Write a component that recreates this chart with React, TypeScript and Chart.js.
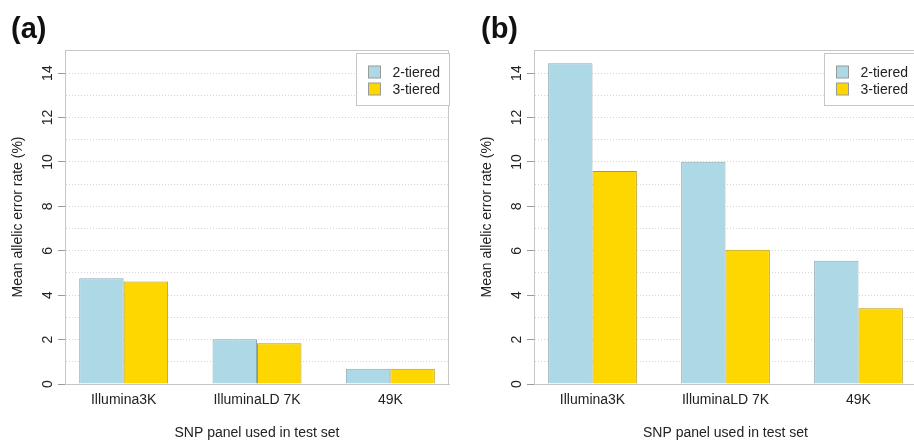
import React, { useEffect, useRef } from "react";
import { Chart, registerables } from "chart.js";

Chart.register(...registerables);

// ---------- data ----------
const categories = ["Illumina3K", "IlluminaLD 7K", "49K"];
const seriesNames = ["2-tiered", "3-tiered"];
const panelA_twoTiered = [4.76, 2.01, 0.69];
const panelA_threeTiered = [4.61, 1.83, 0.69];
const panelB_twoTiered = [14.44, 10.01, 5.55];
const panelB_threeTiered = [9.59, 6.04, 3.41];
const yTickValues = [0, 1, 2, 3, 4, 5, 6, 7, 8, 9, 10, 11, 12, 13, 14];
const yMax = 15.04;
const panelLabels = ["(a)", "(b)"];
const xAxisTitle = "SNP panel used in test set";
const yAxisTitle = "Mean allelic error rate (%)";

// ---------- styles ----------
const FONT = "'Liberation Sans', Arial, Helvetica, sans-serif";
const BLUE = "#ADD8E6";
const GOLD = "#FFD700";
const BLUE_BORDER = "#8ea8b2";
const GOLD_BORDER = "#b79d10";
const BOX = "#c6c6c6";
const TEXT = "#222222";

type PanelCfg = {
  left: number;
  width: number;
  yAxisWidth: number;
  padRight: number;
  yTitlePad: number;
  labelX: number;
  label: string;
  two: number[];
  three: number[];
};

const panels: PanelCfg[] = [
  { left: 0, width: 457, yAxisWidth: 65, padRight: 8, yTitlePad: 10, labelX: 11, label: panelLabels[0], two: panelA_twoTiered, three: panelA_threeTiered },
  { left: 457, width: 463, yAxisWidth: 77, padRight: 3, yTitlePad: 22, labelX: 24, label: panelLabels[1], two: panelB_twoTiered, three: panelB_threeTiered },
];

const decorPlugin = {
  id: "panelDecor",
  afterDraw(chart: any, _args: any, opts: any) {
    const { ctx, chartArea: ca } = chart;
    ctx.save();
    // plot box
    ctx.strokeStyle = BOX;
    ctx.lineWidth = 1;
    const l = Math.round(ca.left) + 0.5;
    const t = Math.round(ca.top) + 0.5;
    const r = Math.round(ca.right) - 0.5;
    const b = Math.round(ca.bottom) + 0.5;
    ctx.beginPath();
    ctx.moveTo(l, b);
    ctx.lineTo(l, t);
    ctx.lineTo(r, t);
    ctx.lineTo(r, b);
    ctx.stroke();

    // legend
    const bw = 93, bh = 52;
    const bx = Math.round(ca.right) - bw + 0.5;
    const by = Math.round(ca.top) + 3 + 0.5;
    ctx.fillStyle = "#ffffff";
    ctx.fillRect(bx, by, bw, bh);
    ctx.strokeStyle = BOX;
    ctx.strokeRect(bx, by, bw, bh);
    const rows = [by + 18.5, by + 35.5];
    chart.data.datasets.forEach((ds: any, i: number) => {
      const cy = rows[i];
      ctx.fillStyle = ds.backgroundColor;
      ctx.fillRect(bx + 12, cy - 6, 12, 12);
      ctx.strokeStyle = "#9a9a9a";
      ctx.strokeRect(bx + 12, cy - 6, 12, 12);
      ctx.fillStyle = TEXT;
      ctx.font = `14px ${FONT}`;
      ctx.textAlign = "left";
      ctx.textBaseline = "middle";
      ctx.fillText(ds.label, bx + 36, cy + 1);
    });

    // panel label
    ctx.fillStyle = "#111111";
    ctx.font = `bold 29px ${FONT}`;
    ctx.textAlign = "left";
    ctx.textBaseline = "middle";
    ctx.fillText(opts.label, opts.labelX, 30);
    ctx.restore();
  },
};

function Panel({ cfg }: { cfg: PanelCfg }) {
  const ref = useRef<HTMLCanvasElement | null>(null);
  useEffect(() => {
    if (!ref.current) return;
    const chart = new Chart(ref.current, {
      type: "bar",
      data: {
        datasets: [
          {
            label: seriesNames[0],
            data: categories.map((_, i) => ({ x: i + 1, y: cfg.two[i] })),
            backgroundColor: BLUE,
            borderColor: BLUE_BORDER,
            borderWidth: 1,
            categoryPercentage: 0.667,
            barPercentage: 1,
          },
          {
            label: seriesNames[1],
            data: categories.map((_, i) => ({ x: i + 1, y: cfg.three[i] })),
            backgroundColor: GOLD,
            borderColor: GOLD_BORDER,
            borderWidth: 1,
            categoryPercentage: 0.667,
            barPercentage: 1,
          },
        ],
      } as any,
      options: {
        responsive: false,
        animation: false,
        devicePixelRatio: 1,
        layout: { padding: { top: 50, right: cfg.padRight, bottom: 0, left: 0 } },
        plugins: {
          legend: { display: false },
          tooltip: { enabled: false },
          panelDecor: { label: cfg.label, labelX: cfg.labelX },
        } as any,
        scales: {
          x: {
            type: "linear",
            offset: false,
            min: 0.56,
            max: 3.44,
            afterBuildTicks: (s: any) => {
              s.ticks = categories.map((_, i) => ({ value: i + 1 }));
            },
            afterFit: (s: any) => {
              s.height = 56;
            },
            grid: { display: false, drawTicks: false, offset: false },
            border: { display: true, color: BOX },
            ticks: {
              autoSkip: false,
              maxRotation: 0,
              minRotation: 0,
              padding: 8,
              color: TEXT,
              font: { family: FONT, size: 14 },
              callback: (v: any) => categories[Math.round(Number(v)) - 1] ?? "",
            },
            title: {
              display: true,
              text: xAxisTitle,
              color: TEXT,
              font: { family: FONT, size: 14 },
              padding: { top: 0, bottom: -2 },
            },
          },
          y: {
            type: "linear",
            min: 0,
            max: yMax,
            afterBuildTicks: (s: any) => {
              s.ticks = yTickValues.map((v) => ({ value: v }));
            },
            afterFit: (s: any) => {
              s.width = cfg.yAxisWidth;
            },
            grid: {
              color: (c: any) => (c.tick && c.tick.value === 0 ? "rgba(0,0,0,0)" : "#d6d6d6"),
              lineWidth: 1,
              tickLength: 7,
              tickWidth: 1,
              tickColor: (c: any) => (c.tick && c.tick.value % 2 === 0 ? "#9a9a9a" : "rgba(0,0,0,0)"),
            },
            border: { display: true, color: BOX, dash: [1, 2] },
            ticks: {
              minRotation: 90,
              maxRotation: 90,
              crossAlign: "center",
              padding: 2,
              color: TEXT,
              font: { family: FONT, size: 14 },
              callback: (v: any) => (Number(v) % 2 === 0 ? String(v) : ""),
            },
            title: {
              display: true,
              text: yAxisTitle,
              color: TEXT,
              font: { family: FONT, size: 14 },
              padding: { top: cfg.yTitlePad, bottom: 0 },
            },
          },
        } as any,
      },
      plugins: [decorPlugin as any],
    });
    return () => chart.destroy();
  }, [cfg]);
  return (
    <canvas
      ref={ref}
      width={cfg.width}
      height={440}
      style={{ position: "absolute", left: cfg.left, top: 0, width: cfg.width, height: 440 }}
    />
  );
}

export default function App() {
  return (
    <div
      style={{
        position: "fixed",
        left: 0,
        top: 0,
        width: 914,
        height: 440,
        overflow: "hidden",
        background: "#ffffff",
      }}
    >
      {panels.map((p) => (
        <Panel key={p.label} cfg={p} />
      ))}
    </div>
  );
}
